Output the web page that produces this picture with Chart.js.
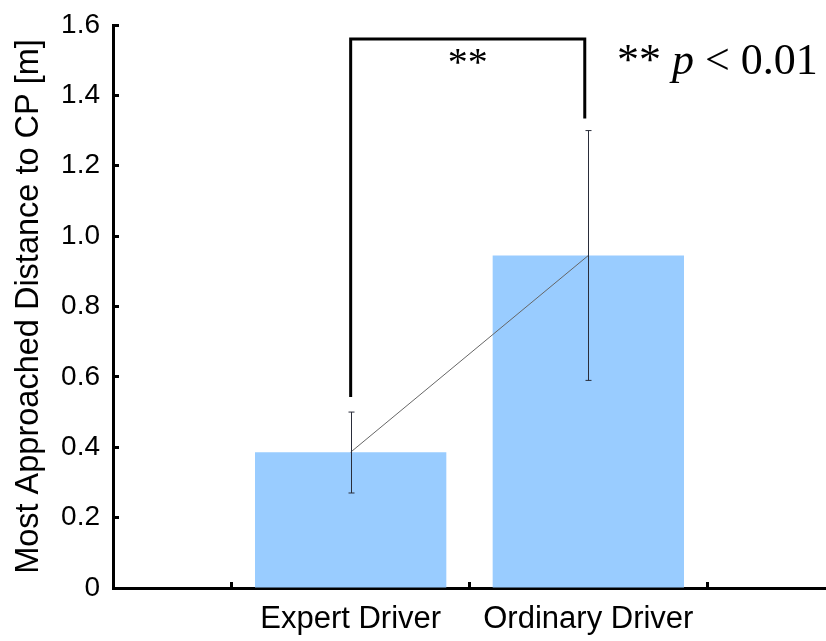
<!DOCTYPE html>
<html>
<head>
<meta charset="utf-8">
<script src="https://cdn.jsdelivr.net/npm/chart.js@4"></script>
<style>
  html, body { margin: 0; padding: 0; background: #fff; }
  #wrap { width: 826px; height: 641px; }
</style>
</head>
<body>
<div id="wrap"><canvas id="chart"></canvas></div>
<script>
// values
const categories = ['', 'Expert Driver', 'Ordinary Driver', ''];
const means = [null, 0.386, 0.945, null];
const errHigh = [null, 0.50, 1.30, null];
const errLow = [null, 0.27, 0.59, null];
const yTicks = [0, 0.2, 0.4, 0.6, 0.8, 1.0, 1.2, 1.4, 1.6];
// significance bracket: x ends (category index), y of left end, top, right end
const bracketX = [1, 1.985];
const bracketY = [0.543, 1.56, 1.334];

Chart.defaults.font.family = "'Liberation Sans', Arial, sans-serif";
const serif = '"Liberation Serif", "Times New Roman", serif';

// error bars, bracket and p-value note
const extras = {
  id: 'extras',
  afterDatasetsDraw(chart) {
    const { ctx, scales: { x, y } } = chart;
    ctx.save();

    ctx.strokeStyle = '#2a2d3a';
    ctx.lineWidth = 1;
    means.forEach((m, i) => {
      if (m == null) return;
      const px = Math.round(x.getPixelForValue(i)) + 0.5;
      const top = y.getPixelForValue(errHigh[i]);
      const bot = y.getPixelForValue(errLow[i]);
      ctx.beginPath();
      ctx.moveTo(px, top); ctx.lineTo(px, bot);
      ctx.moveTo(px - 3, top); ctx.lineTo(px + 3, top);
      ctx.moveTo(px - 3, bot); ctx.lineTo(px + 3, bot);
      ctx.stroke();
    });

    const x1 = x.getPixelForValue(bracketX[0]);
    const x2 = x.getPixelForValue(bracketX[1]);
    const yl = y.getPixelForValue(bracketY[0]);
    const yt = y.getPixelForValue(bracketY[1]);
    const yr = y.getPixelForValue(bracketY[2]);
    ctx.strokeStyle = '#000';
    ctx.lineWidth = 3;
    ctx.beginPath();
    ctx.moveTo(x1, yl); ctx.lineTo(x1, yt); ctx.lineTo(x2, yt); ctx.lineTo(x2, yr);
    ctx.stroke();

    ctx.fillStyle = '#000';
    ctx.textBaseline = 'alphabetic';
    ctx.textAlign = 'center';
    ctx.font = '40px ' + serif;
    ctx.fillText('**', (x1 + x2) / 2, yt + 36);

    // "** p < 0.01"
    ctx.textAlign = 'left';
    let tx = 617;
    [['** ', ''], ['p', 'italic '], [' < 0.01', '']].forEach(([t, st]) => {
      ctx.font = st + '44px ' + serif;
      ctx.fillText(t, tx, 74);
      tx += ctx.measureText(t).width;
    });

    ctx.restore();
  }
};

new Chart(document.getElementById('chart'), {
  type: 'bar',
  data: {
    labels: categories,
    datasets: [
      {
        type: 'line',
        data: means,
        borderColor: '#666',
        borderWidth: 1,
        pointRadius: 0,
        order: 0
      },
      {
        type: 'bar',
        data: means,
        backgroundColor: '#99ccff',
        categoryPercentage: 1,
        barPercentage: 0.805,
        order: 1
      }
    ]
  },
  options: {
    responsive: true,
    maintainAspectRatio: false,
    animation: false,
    layout: { padding: { top: 25, left: 0, right: 0, bottom: 0 } },
    plugins: { legend: { display: false }, tooltip: { enabled: false } },
    scales: {
      x: {
        type: 'category',
        offset: false,
        grid: { display: true, offset: true, drawOnChartArea: false, tickLength: -6, tickWidth: 3, tickColor: '#000' },
        border: { display: true, color: '#000', width: 3 },
        ticks: { color: '#000', font: { size: 31 }, padding: 19, maxRotation: 0, autoSkip: false },
        afterFit(s) {
          s.height = 53;
          s.paddingLeft = 0;
          s.paddingRight = 0;
        }
      },
      y: {
        min: 0,
        max: 1.6,
        afterBuildTicks(s) { s.ticks = yTicks.map(v => ({ value: v })); },
        grid: { display: true, drawOnChartArea: false, tickLength: -6, tickWidth: 3, tickColor: '#000' },
        border: { display: true, color: '#000', width: 3 },
        ticks: { color: '#000', font: { size: 28 }, padding: 19, callback: v => v === 0 ? '0' : v.toFixed(1) },
        title: {
          display: true,
          text: 'Most Approached Distance to CP [m]',
          color: '#000',
          font: { size: 32.5 },
          padding: { top: 10, bottom: 0 }
        },
        afterFit(s) {
          s.width = 113;
          s.paddingTop = 0;
          s.paddingBottom = 0;
        }
      }
    }
  },
  plugins: [extras]
});
</script>
</body>
</html>
